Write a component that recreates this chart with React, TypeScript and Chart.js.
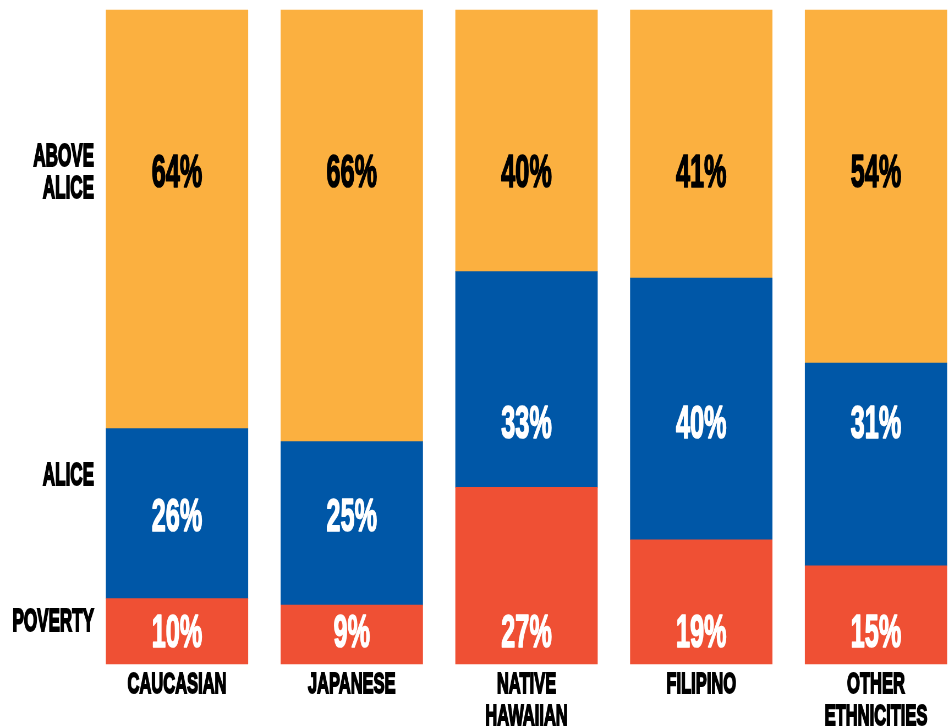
import React, { useEffect, useRef } from 'react';
import { Chart, registerables } from 'chart.js';

Chart.register(...registerables);

// ---- data ----
const categories: (string | string[])[] = ['CAUCASIAN', 'JAPANESE', ['NATIVE', 'HAWAIIAN'], 'FILIPINO', ['OTHER', 'ETHNICITIES']];
const povertyValues = [10, 9, 27, 19, 15];
const aliceValues = [26, 25, 33, 40, 31];
const aboveAliceValues = [64, 66, 40, 41, 54];
const levelLabels: (string | string[])[] = ['POVERTY', 'ALICE', ['ABOVE', 'ALICE']];
const levelTickValues = [6.3, 28.7, 75.0];

// ---- styling / layout ----
const W_SCREEN = 949;
const H = 727;
const W = 1725; // internal width, condensed horizontally by CSS
const S = W_SCREEN / W;
const sx = (px: number) => px / S;
const FONT = "'Liberation Sans', Arial, sans-serif";
const COLORS = { poverty: '#EF5034', alice: '#0057A7', above: '#FBB040' };

// value-space anchors for the in-bar labels (per series, per bar)
const labelAnchors = [
  [5, 5, 5, 5, 5],
  [22.8, 22.8, 37, 37, 37],
  [75.4, 75.4, 75.4, 75.4, 75.4],
];
const labelColors = ['#ffffff', '#ffffff', '#000000'];

const valueLabelsPlugin = {
  id: 'valueLabels',
  afterDatasetsDraw(chart: any) {
    const ctx = chart.ctx;
    const yScale = chart.scales.y;
    chart.data.datasets.forEach((ds: any, di: number) => {
      const meta = chart.getDatasetMeta(di);
      meta.data.forEach((bar: any, i: number) => {
        const v = ds.data[i];
        const text = `${v}%`;
        const y = yScale.getPixelForValue(labelAnchors[di][i]);
        ctx.save();
        ctx.font = `bold 46px ${FONT}`;
        ctx.fillStyle = labelColors[di];
        ctx.strokeStyle = labelColors[di];
        ctx.lineWidth = 1.6;
        ctx.lineJoin = 'round';
        ctx.textAlign = 'center';
        ctx.textBaseline = 'alphabetic';
        const m = ctx.measureText(text);
        const asc = m.actualBoundingBoxAscent || 34;
        const desc = m.actualBoundingBoxDescent || 0;
        const ty = y + (asc - desc) / 2;
        ctx.strokeText(text, bar.x, ty);
        ctx.fillText(text, bar.x, ty);
        ctx.restore();
      });
    });
  },
};

export default function App() {
  const ref = useRef<HTMLCanvasElement | null>(null);

  useEffect(() => {
    if (!ref.current) return;
    const barThickness = sx(142);
    const chart = new Chart(ref.current, {
      type: 'bar',
      data: {
        labels: categories,
        datasets: [
          { label: 'Poverty', data: povertyValues, backgroundColor: COLORS.poverty, barThickness, clip: false as any, borderWidth: 0 },
          { label: 'ALICE', data: aliceValues, backgroundColor: COLORS.alice, barThickness, clip: false as any, borderWidth: 0 },
          { label: 'Above ALICE', data: aboveAliceValues, backgroundColor: COLORS.above, barThickness, clip: false as any, borderWidth: 0 },
        ],
      },
      options: {
        responsive: false,
        animation: false,
        devicePixelRatio: 1,
        layout: { padding: { left: 0, right: W - sx(876), top: 10, bottom: 0 } },
        plugins: { legend: { display: false }, tooltip: { enabled: false } },
        scales: {
          x: {
            stacked: true,
            offset: false,
            grid: { display: false, drawTicks: false },
            border: { display: false },
            ticks: {
              color: '#000',
              textStrokeColor: '#000',
              textStrokeWidth: 1.8,
              autoSkip: false,
              maxRotation: 0,
              minRotation: 0,
              padding: 5,
              font: { family: FONT, weight: 'bold', size: 30, lineHeight: 32 / 30 },
            },
            afterFit: (s: any) => {
              s.height = H - 664;
              s.paddingLeft = 0;
              s.paddingRight = 0;
            },
          },
          y: {
            stacked: true,
            min: 0,
            max: 100,
            grid: { display: false, drawTicks: false },
            border: { display: false },
            afterBuildTicks: (s: any) => {
              s.ticks = levelTickValues.map((v) => ({ value: v }));
            },
            ticks: {
              color: '#000',
              textStrokeColor: '#000',
              textStrokeWidth: 1.8,
              autoSkip: false,
              padding: sx(177) - sx(94),
              font: { family: FONT, weight: 'bold', size: 31, lineHeight: 32 / 31 },
              callback: (value: any) => {
                const idx = levelTickValues.indexOf(Number(value));
                return idx >= 0 ? levelLabels[idx] : '';
              },
            },
            afterFit: (s: any) => {
              s.width = sx(177);
              s.paddingTop = 0;
              s.paddingBottom = 0;
            },
          },
        },
      } as any,
      plugins: [valueLabelsPlugin],
    });
    return () => chart.destroy();
  }, []);

  return (
    <canvas
      ref={ref}
      width={W}
      height={H}
      style={{ position: 'absolute', left: 0, top: 0, width: `${W_SCREEN}px`, height: `${H}px` }}
    />
  );
}
